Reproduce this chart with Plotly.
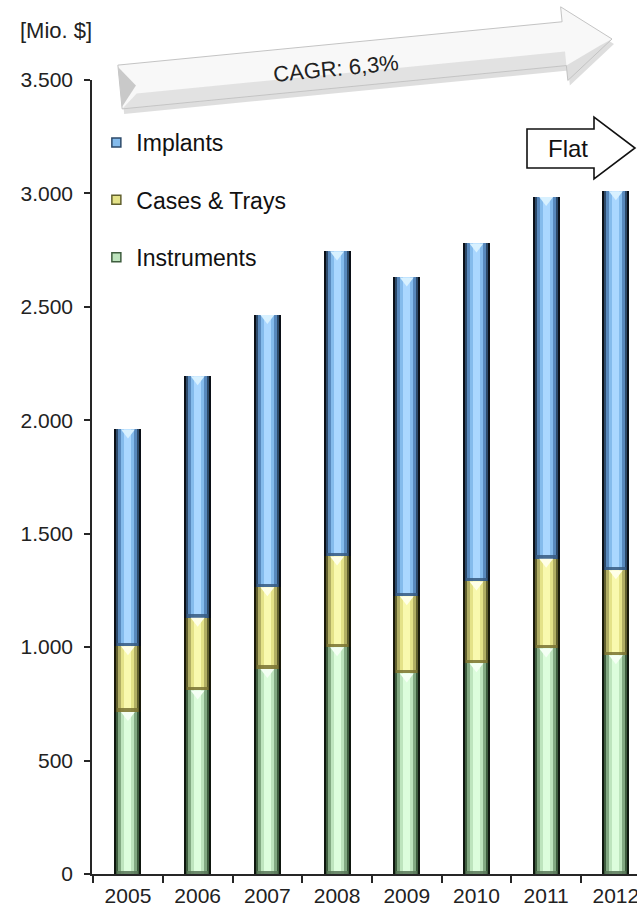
import numpy as np
import plotly.graph_objects as go

# Market volume by segment, million USD
years = ["2005", "2006", "2007", "2008", "2009", "2010", "2011", "2012"]
instruments = [715, 810, 905, 1000, 885, 930, 995, 965]
cases_trays = [290, 320, 360, 400, 340, 360, 395, 375]
implants = [955, 1065, 1200, 1345, 1405, 1490, 1595, 1670]
y_ticks = [0, 500, 1000, 1500, 2000, 2500, 3000, 3500]

# Layout geometry (pixels)
W, H = 637, 909
ML, MR, MT, MB = 92, 0, 80, 35
PW, PH = W - ML - MR, H - MT - MB
CAT_PX = 69.7
X0 = -0.516
Y_MAX = 3500
UNIT_PX = PH / Y_MAX

FONT = "Arial, Liberation Sans, sans-serif"
INK = "#222222"

# name, values, bevel layers (outer -> inner), cap colour, lower-edge colour
series = [
    ("Instruments", instruments,
     ["#0f170f", "#3e5d3e", "#82a982", "#bde4bd", "#dcfddc"], "#f4fff4", "#5a785a"),
    ("Cases & Trays", cases_trays,
     ["#191909", "#61602e", "#b1ae63", "#e4e288", "#f9f9ae"], "#ffffe8", "#7a7434"),
    ("Implants", implants,
     ["#0b1017", "#2d4a6a", "#5889bd", "#84bbec", "#aad7ff"], "#d8f1ff", "#385b82"),
]
layer_px = [27, 23, 19, 13, 7]

fig = go.Figure()

base = np.zeros(len(years))
for name, vals, pal, cap, edge in series:
    vals = np.asarray(vals, dtype=float)
    for wpx, col in zip(layer_px, pal):
        fig.add_bar(x=years, y=vals, base=base, width=wpx / CAT_PX,
                    marker=dict(color=col, line=dict(width=0)),
                    showlegend=False, hoverinfo="skip")
    # darker lower edge of each segment
    fig.add_bar(x=years, y=np.full(len(years), 3.5 / UNIT_PX), base=base,
                width=21 / CAT_PX, marker=dict(color=edge, line=dict(width=0)),
                opacity=0.85, showlegend=False, hoverinfo="skip")
    # light bevel cap at the top of each segment
    fig.add_scatter(x=years, y=base + vals - 3.2 / UNIT_PX, mode="markers",
                    marker=dict(symbol="triangle-down", size=12, color=cap,
                                line=dict(width=0)),
                    showlegend=False, hoverinfo="skip")
    base = base + vals

# legend entries, top to bottom
for name, vals, pal, cap, edge in reversed(series):
    fig.add_scatter(x=[None], y=[None], mode="markers", name=name,
                    legendgroup=name,
                    marker=dict(symbol="square", size=9, color=pal[3],
                                line=dict(color=pal[1], width=1.5)))


def paper(xp, yp):
    return (xp - ML) / PW, (H - MB - yp) / PH


def path_from(points):
    pts = [paper(x, y) for x, y in points]
    return "M " + " L ".join(f"{x:.5f},{y:.5f}" for x, y in pts) + " Z"


def arrow_frame(start, tip):
    s = np.array(start, float)
    t = np.array(tip, float)
    L = np.linalg.norm(t - s)
    u = (t - s) / L
    n = np.array([-u[1], u[0]])
    if n[1] < 0:
        n = -n
    return s, u, n, L


def to_screen(frame, local, shift=(0, 0)):
    s, u, n, _ = frame
    return [tuple(s + a * u + c * n + np.array(shift)) for a, c in local]


shapes = []

# growth arrow
start, tip = (120, 87), (612, 39)
hb, hw, hl = 22, 37, 48
frame = arrow_frame(start, tip)
L = frame[3]
outline = [(0, -hb), (L - hl, -hb), (L - hl, -hw), (L, 0),
           (L - hl, hw), (L - hl, hb), (0, hb)]
shapes.append(dict(type="path", xref="paper", yref="paper",
                   path=path_from(to_screen(frame, outline, shift=(2, 5))),
                   fillcolor="rgba(0,0,0,0.13)", line=dict(width=0), layer="above"))
shapes.append(dict(type="path", xref="paper", yref="paper",
                   path=path_from(to_screen(frame, outline)),
                   fillcolor="#f8f8f8", line=dict(color="#c4c4c4", width=1), layer="above"))
# lower face shading
lower = [(16, 8), (L - hl, 8), (L - hl, hb), (0, hb)]
shapes.append(dict(type="path", xref="paper", yref="paper",
                   path=path_from(to_screen(frame, lower)),
                   fillcolor="rgba(200,200,200,0.45)", line=dict(width=0), layer="above"))
head_low = [(L - hl, hb), (L - hl, hw), (L, 0), (L - 12, 5)]
shapes.append(dict(type="path", xref="paper", yref="paper",
                   path=path_from(to_screen(frame, head_low)),
                   fillcolor="rgba(190,190,190,0.45)", line=dict(width=0), layer="above"))
# tail chevron
tail = [(0, -hb + 2), (16, 0), (0, hb - 2)]
shapes.append(dict(type="path", xref="paper", yref="paper",
                   path=path_from(to_screen(frame, tail)),
                   fillcolor="#c9c9c9", line=dict(width=0), layer="above"))

# "Flat" outline arrow
flat = [(527, 129), (594, 129), (594, 117), (635, 148), (594, 179), (594, 168), (527, 168)]
shapes.append(dict(type="path", xref="paper", yref="paper", path=path_from(flat),
                   fillcolor="white", line=dict(color="#111111", width=1.6), layer="above"))

angle = np.degrees(np.arctan2(tip[1] - start[1], tip[0] - start[0]))
cx, cy = paper(336, 69)
fx, fy = paper(568, 149)
lx, ly = paper(18, 30)

annotations = [
    dict(text="CAGR: 6,3%", x=cx, y=cy, xref="paper", yref="paper",
         xanchor="center", yanchor="middle",
         showarrow=False, textangle=angle, font=dict(size=22, color=INK, family=FONT)),
    dict(text="Flat", x=fx, y=fy, xref="paper", yref="paper",
         xanchor="center", yanchor="middle",
         showarrow=False, font=dict(size=24, color="#111111", family=FONT)),
    dict(text="[Mio. $]", x=lx, y=ly, xref="paper", yref="paper", xanchor="left",
         yanchor="middle", showarrow=False, font=dict(size=22, color=INK, family=FONT)),
]

fig.update_layout(
    width=W, height=H,
    margin=dict(l=ML, r=MR, t=MT, b=MB, pad=0, autoexpand=False),
    paper_bgcolor="white", plot_bgcolor="white",
    barmode="overlay", bargap=0,
    separators=",.",
    font=dict(family=FONT, size=21, color=INK),
    showlegend=True,
    legend=dict(x=0.008, y=paper(0, 121)[1], xanchor="left", yanchor="top",
                bgcolor="rgba(0,0,0,0)", font=dict(size=23, color="#111111", family=FONT),
                tracegroupgap=24.5, traceorder="grouped"),
    shapes=shapes,
    annotations=annotations,
    xaxis=dict(type="category", categoryorder="array", categoryarray=years,
               range=[X0, X0 + PW / CAT_PX], showgrid=False, zeroline=False,
               automargin=False,
               showline=True, linecolor="#262626", linewidth=1.5,
               ticks="outside", tickson="boundaries", ticklen=7, tickwidth=1.5,
               tickcolor="#262626", ticklabelstandoff=2,
               tickfont=dict(size=21, color=INK, family=FONT)),
    yaxis=dict(range=[0, Y_MAX], tickvals=y_ticks, tickformat=",d",
               showgrid=False, zeroline=False, showline=True, automargin=False,
               linecolor="#262626", linewidth=1.5, ticks="outside", ticklen=6,
               tickwidth=1.5, tickcolor="#262626", ticklabelstandoff=7,
               tickfont=dict(size=21, color=INK, family=FONT)),
)

fig.write_html("out.html")
